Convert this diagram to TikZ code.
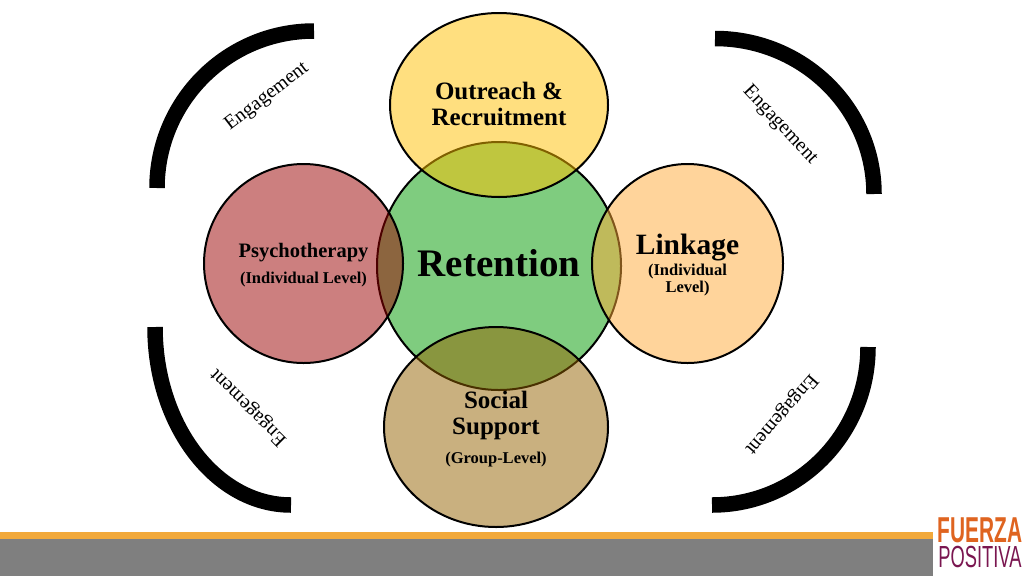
\documentclass[tikz,border=0pt]{standalone}
\usepackage{fontspec}
\setmainfont{Liberation Serif}
\newfontfamily\logofont{Liberation Sans}
\usetikzlibrary{positioning}
\usetikzlibrary{shapes.geometric}
\definecolor{bandorange}{HTML}{F2A93B}
\definecolor{bandgray}{HTML}{7F7F7F}
\definecolor{logoorange}{HTML}{DF6420}
\definecolor{logopurple}{HTML}{7A1650}
\newcommand{\fs}[1]{\fontsize{#1}{#1}\selectfont}
\tikzset{
	petal/.style={draw=black, ellipse, line width=2pt, inner sep=0pt, outer sep=0pt, fill opacity=0.5},
	petaltext/.style={inner sep=0pt, align=center, font=\bfseries},
	engage/.style={inner sep=0pt, font=\fs{20}},
	bracket/.style={draw=black, line width=15.5pt},
}

\begin{document}
\begin{tikzpicture}[x=1pt, y=-1pt]
		\useasboundingbox (0,0) rectangle (1024,576);
		
		% bottom band
		\fill [bandgray] (0,538) rectangle (933,576);
		\fill [bandorange] (0,532) rectangle (933,539);
		
		% circles, retention goes first so that the others lie over it
		\node (ret) [petal, fill={rgb,255:red,0;green,153;blue,0}, minimum width=244pt, minimum height=248pt] at (499,266) {};
		\node (out) [petal, fill={rgb,255:red,255;green,192;blue,0}, minimum width=218pt, minimum height=184pt, above of=ret, node distance=161pt] {};
		\node (psy) [petal, fill={rgb,255:red,153;green,0;blue,0}, minimum width=199pt, minimum height=199pt, left of=ret, node distance=195.5pt, yshift=2.5pt] {};
		\node (lin) [petal, fill={rgb,255:red,255;green,170;blue,56}, minimum width=191pt, minimum height=199pt, right of=ret, node distance=188.5pt, yshift=2.5pt] {};
		\node (soc) [petal, fill={rgb,255:red,147;green,97;blue,0}, minimum width=224pt, minimum height=200pt, below of=ret, node distance=161pt, xshift=-3pt] {};
		
		\node (rettext) [petaltext, yshift=3pt] at (ret) {\fs{39}Retention};
		\node (outtext) [petaltext, yshift=1pt] at (out) {\fs{25}Outreach \&\\[8pt]\fs{25}Recruitment};
		\node (psytext) [petaltext, yshift=-2pt] at (psy) {\fs{20.5}Psychotherapy\\[9pt]\fs{16.5}(Individual Level)};
		\node (lintext) [petaltext, yshift=-1.5pt] at (lin) {\fs{29.5}Linkage\\[2pt]\fs{16.5}(Individual\\[1pt]\fs{16.5}Level)};
		\node (soctext) [petaltext, yshift=-2pt] at (soc) {\fs{25}Social\\[8pt]\fs{25}Support\\[11pt]\fs{16.5}(Group-Level)};
		
		% outer brackets
		\draw [bracket] (157,188) arc [start angle=180, end angle=90, x radius=157, y radius=-157];
		\draw [bracket] (715,38.5) arc [start angle=90, end angle=0, x radius=159, y radius=-155.5];
		\draw [bracket] (155,327) arc [start angle=180, end angle=270, x radius=136, y radius=-178];
		\draw [bracket] (712,505) arc [start angle=270, end angle=360, x radius=156, y radius=-158];
		
		\node (engul) [engage, rotate=37.5] at (267,97) {Engagement};
		\node (engur) [engage, rotate=-47] at (780,125) {Engagement};
		\node (engll) [engage, rotate=135] at (249,407) {Engagement};
		\node (englr) [engage, rotate=229] at (781,414) {Engagement};
		
		% logo
		\node (fuerza) [inner sep=0pt, text=logoorange, font=\logofont\bfseries\fs{36}, xscale=0.58] at (980,530) {FUERZA};
		\node (positiva) [inner sep=0pt, text=logopurple, font=\logofont\fs{30.5}, xscale=0.6, below of=fuerza, node distance=27pt] {POSITIVA};
	\end{tikzpicture}
\end{document}
